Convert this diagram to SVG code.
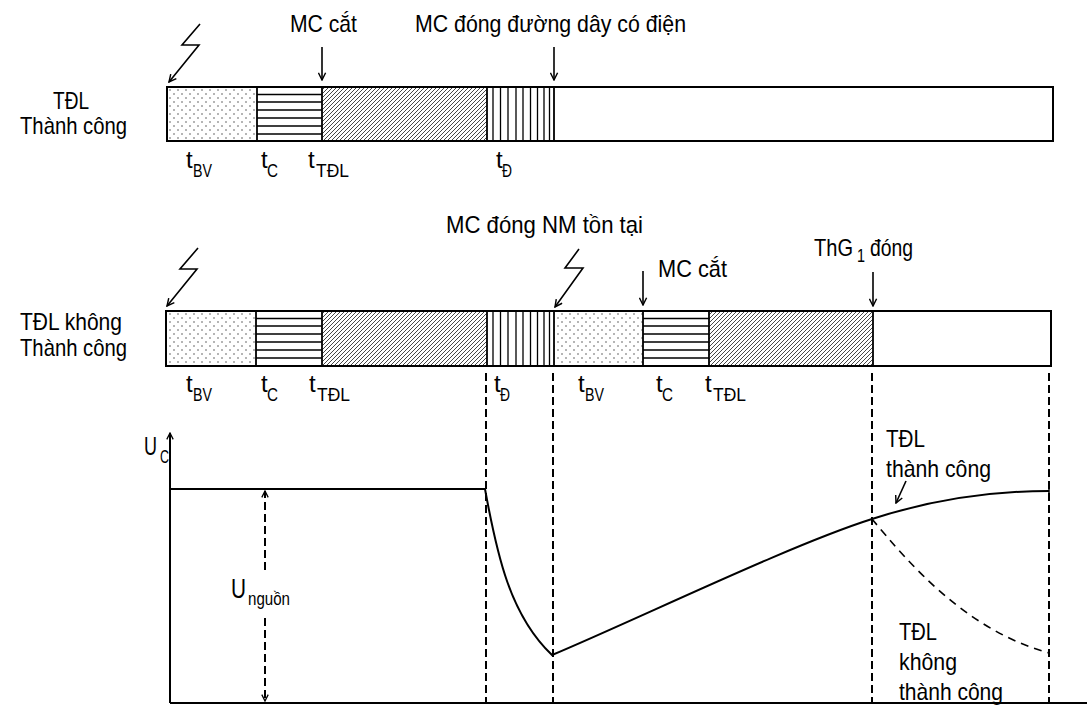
<svg xmlns="http://www.w3.org/2000/svg" width="1087" height="711" viewBox="0 0 1087 711">
<style>
text{font-family:"Liberation Sans",Arial,sans-serif;fill:#000}
.m{font-size:24px}
.s{font-size:18px}
.bar{fill:none;stroke:#000;stroke-width:2}
.div{stroke:#000;stroke-width:1.8}
.hl{stroke:#000;stroke-width:1.3}
.vl{stroke:#000;stroke-width:1.3}
.ln{fill:none;stroke:#000;stroke-width:2}
.ar{fill:none;stroke:#000;stroke-width:1.6;marker-end:url(#v)}
.dash{fill:none;stroke:#000;stroke-width:2;stroke-dasharray:8 4}
</style>
<defs>
<pattern id="dots" width="8" height="8" patternUnits="userSpaceOnUse">
<circle cx="2" cy="2" r="0.75" fill="#444"/>
<circle cx="6" cy="6" r="0.75" fill="#444"/>
</pattern>
<pattern id="diag" width="4" height="4" patternUnits="userSpaceOnUse">
<path d="M-1,5 L5,-1 M-1,1 L1,-1 M3,5 L5,3" stroke="#333" stroke-width="0.9"/>
</pattern>
<marker id="v" viewBox="0 0 10 10" refX="9" refY="5" markerWidth="9" markerHeight="9" markerUnits="userSpaceOnUse" orient="auto">
<path d="M1,1 L9,5 L1,9" fill="none" stroke="#000" stroke-width="1.6"/>
</marker>
<marker id="vs" viewBox="0 0 10 10" refX="9" refY="5" markerWidth="8" markerHeight="8" markerUnits="userSpaceOnUse" orient="auto-start-reverse">
<path d="M1,1 L9,5 L1,9" fill="none" stroke="#000" stroke-width="1.6"/>
</marker>
</defs>

<g id="row1-label">
<text class="m" x="53" y="109" textLength="36" lengthAdjust="spacingAndGlyphs">TĐL</text>
<text class="m" x="20" y="134" textLength="107" lengthAdjust="spacingAndGlyphs">Thành công</text>
</g>

<g id="row1-bar">
<rect x="167" y="87" width="90" height="54" fill="url(#dots)"/>
<rect x="322" y="87" width="165" height="54" fill="url(#diag)"/>
<path class="hl" d="M257,94.5H322M257,102H322M257,110H322M257,118H322M257,126H322M257,134H322"/>
<path class="vl" d="M493,87V141M500.5,87V141M508,87V141M516,87V141M523,87V141M530.5,87V141M537.5,87V141M544,87V141M549.5,87V141"/>
<path class="div" d="M257,87V141M322,87V141M487,87V141M554,87V141"/>
<rect class="bar" x="167" y="87" width="886" height="54"/>
</g>

<g id="row1-times">
<text class="m" x="186" y="168">t</text><text class="s" x="193" y="177" textLength="19" lengthAdjust="spacingAndGlyphs">BV</text>
<text class="m" x="261" y="168">t</text><text class="s" x="267" y="177" textLength="11" lengthAdjust="spacingAndGlyphs">C</text>
<text class="m" x="308" y="168">t</text><text class="s" x="316" y="177" textLength="33" lengthAdjust="spacingAndGlyphs">TĐL</text>
<text class="m" x="496" y="168">t</text><text class="s" x="502" y="177" textLength="10" lengthAdjust="spacingAndGlyphs">Đ</text>
</g>

<g id="row1-events">
<text class="m" x="290" y="32" textLength="67" lengthAdjust="spacingAndGlyphs">MC cắt</text>
<text class="m" x="415" y="32" textLength="271" lengthAdjust="spacingAndGlyphs">MC đóng đường dây có điện</text>
</g>

<g id="row2-label">
<text class="m" x="20" y="330" textLength="102" lengthAdjust="spacingAndGlyphs">TĐL không</text>
<text class="m" x="20" y="356" textLength="107" lengthAdjust="spacingAndGlyphs">Thành công</text>
</g>

<g id="row2-bar">
<rect x="166" y="311" width="90" height="55" fill="url(#dots)"/>
<rect x="322" y="311" width="165" height="55" fill="url(#diag)"/>
<rect x="554" y="311" width="89" height="55" fill="url(#dots)"/>
<rect x="709" y="311" width="164" height="55" fill="url(#diag)"/>
<path class="hl" d="M256,318.5H322M256,326H322M256,334H322M256,342H322M256,350H322M256,358H322"/>
<path class="hl" d="M643,318.5H709M643,326H709M643,334H709M643,342H709M643,350H709M643,358H709"/>
<path class="vl" d="M493,311V366M500.5,311V366M508,311V366M516,311V366M523,311V366M530.5,311V366M537.5,311V366M544,311V366M549.5,311V366"/>
<path class="div" d="M256,311V366M322,311V366M487,311V366M554,311V366M643,311V366M709,311V366M873,311V366"/>
<rect class="bar" x="166" y="311" width="885" height="55"/>
</g>

<g id="row2-times">
<text class="m" x="186" y="392">t</text><text class="s" x="193" y="401" textLength="19" lengthAdjust="spacingAndGlyphs">BV</text>
<text class="m" x="261" y="392">t</text><text class="s" x="267" y="401" textLength="11" lengthAdjust="spacingAndGlyphs">C</text>
<text class="m" x="309" y="392">t</text><text class="s" x="317" y="401" textLength="33" lengthAdjust="spacingAndGlyphs">TĐL</text>
<text class="m" x="494" y="392">t</text><text class="s" x="500" y="401" textLength="10" lengthAdjust="spacingAndGlyphs">Đ</text>
<text class="m" x="578" y="392">t</text><text class="s" x="585" y="401" textLength="19" lengthAdjust="spacingAndGlyphs">BV</text>
<text class="m" x="656" y="392">t</text><text class="s" x="662" y="401" textLength="11" lengthAdjust="spacingAndGlyphs">C</text>
<text class="m" x="705" y="392">t</text><text class="s" x="713" y="401" textLength="33" lengthAdjust="spacingAndGlyphs">TĐL</text>
</g>

<g id="row2-events">
<text class="m" x="446" y="233" textLength="197" lengthAdjust="spacingAndGlyphs">MC đóng NM tồn tại</text>
<text class="m" x="658" y="277" textLength="69" lengthAdjust="spacingAndGlyphs">MC cắt</text>
<text class="m" x="814" y="256" textLength="39" lengthAdjust="spacingAndGlyphs">ThG</text>
<text class="s" x="857" y="262" textLength="8" lengthAdjust="spacingAndGlyphs">1</text>
<text class="m" x="870" y="256" textLength="43" lengthAdjust="spacingAndGlyphs">đóng</text>
</g>

<g id="graph-labels">
<text class="m" x="144" y="455" style="font-size:26px" textLength="13" lengthAdjust="spacingAndGlyphs">U</text>
<text class="s" x="160" y="463" textLength="9" lengthAdjust="spacingAndGlyphs">C</text>
<text class="m" x="231" y="598" style="font-size:27px" textLength="15" lengthAdjust="spacingAndGlyphs">U</text>
<text class="s" x="248" y="605" textLength="42" lengthAdjust="spacingAndGlyphs">nguồn</text>
<text class="m" x="886" y="447" textLength="39" lengthAdjust="spacingAndGlyphs">TĐL</text>
<text class="m" x="886" y="477" textLength="105" lengthAdjust="spacingAndGlyphs">thành công</text>
<text class="m" x="899" y="640" textLength="38" lengthAdjust="spacingAndGlyphs">TĐL</text>
<text class="m" x="899" y="670" textLength="58" lengthAdjust="spacingAndGlyphs">không</text>
<text class="m" x="899" y="700" textLength="104" lengthAdjust="spacingAndGlyphs">thành công</text>
</g>

<g id="connectors">
<path class="ar" d="M200,24 L182,45 L199,45 L169,82"/>
<path class="ar" d="M198,248 L180,269 L197,269 L167,306"/>
<path class="ar" d="M579,249 L565,268 L583,268 L555,307"/>
<path class="ar" d="M322,47 V80"/>
<path class="ar" d="M554,47 V80"/>
<path class="ar" d="M643,271 V305"/>
<path class="ar" d="M873,272 V306"/>
<path class="ar" d="M906,481 L896,503"/>
<path class="dash" d="M486,373V703M553,373V703M872,373V703M1049,373V703"/>
</g>

<g id="graph">
<path class="ln" d="M170,703 V433" marker-end="url(#vs)"/>
<path class="ln" d="M170,703 H1087"/>
<path class="ln" d="M170,489 H485 C497,555 510,615 552,655 C640,618 790,545 872,519 C940,497 1000,491 1049,491"/>
<path class="ln" d="M1049,486 V496" style="stroke-width:1.5"/>
<path fill="none" stroke="#000" stroke-width="1.6" stroke-dasharray="8 6" d="M872,519 C908,562 965,630 1049,653"/>
<path fill="none" stroke="#000" stroke-width="2" stroke-dasharray="8 4" d="M265,570 V491" marker-end="url(#vs)"/>
<path fill="none" stroke="#000" stroke-width="2" stroke-dasharray="8 4" d="M265,618 V701" marker-end="url(#vs)"/>
</g>
</svg>
